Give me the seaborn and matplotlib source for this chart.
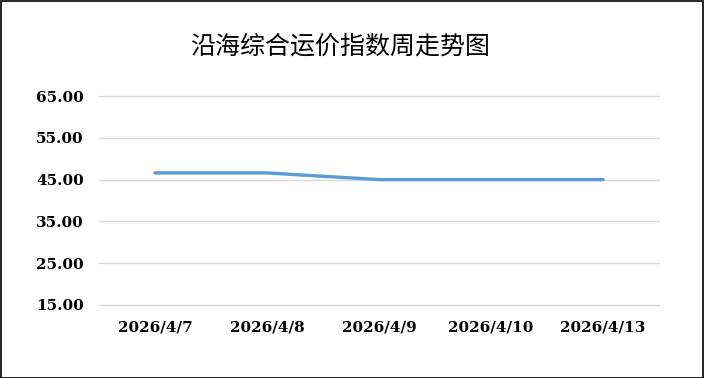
import matplotlib
matplotlib.use("Agg")
import matplotlib.pyplot as plt
import seaborn as sns
import pandas as pd
from matplotlib.patches import Rectangle

dates = ["2026/4/7", "2026/4/8", "2026/4/9", "2026/4/10", "2026/4/13"]
values = [46.6, 46.6, 45.0, 45.0, 45.0]
yticks = [15, 25, 35, 45, 55, 65]
title = "沿海综合运价指数周走势图"

sns.set_theme(style="white")
plt.rcParams['font.family'] = ['Noto Sans CJK SC', 'DejaVu Sans']

df = pd.DataFrame({"date": dates, "value": values})

fig = plt.figure(figsize=(7.04, 3.78), dpi=100)
ax = fig.add_axes([99/704, 1-305/378, 560/704, (305-96)/378])
sns.lineplot(data=df, x="date", y="value", ax=ax, color="#5B9BD5", linewidth=2.4, sort=False)
ax.set_xlim(-0.5, len(dates)-0.5)
ax.set_ylim(15, 65)
ax.set_yticks(yticks)
ax.set_yticklabels([f"{v:.2f}" for v in yticks])
ax.yaxis.grid(True, color="#D9D9D9", linewidth=1)
for gl in ax.get_ygridlines():
    gl.set_clip_on(False)
ax.xaxis.grid(False)
for s in ax.spines.values():
    s.set_visible(False)
ax.set_xlabel("")
ax.set_ylabel("")
ax.tick_params(axis="y", length=0, pad=11)
ax.tick_params(axis="x", length=0, pad=11)
for lab in ax.get_xticklabels() + ax.get_yticklabels():
    lab.set_fontfamily("DejaVu Serif")
    lab.set_fontweight("bold")
    lab.set_fontsize(11)
    lab.set_color("black")
fig.text(340/704, 1-47/378, title, ha="center", va="center", fontsize=18, color="black",
         family=['Noto Sans CJK SC', 'DejaVu Sans'])
fig.patches.append(Rectangle((0.5/704, 0.5/378), 1-1.5/704, 1-1.5/378, transform=fig.transFigure,
                             fill=False, edgecolor="black", linewidth=1.2))
fig.savefig("out.png", dpi=100)
